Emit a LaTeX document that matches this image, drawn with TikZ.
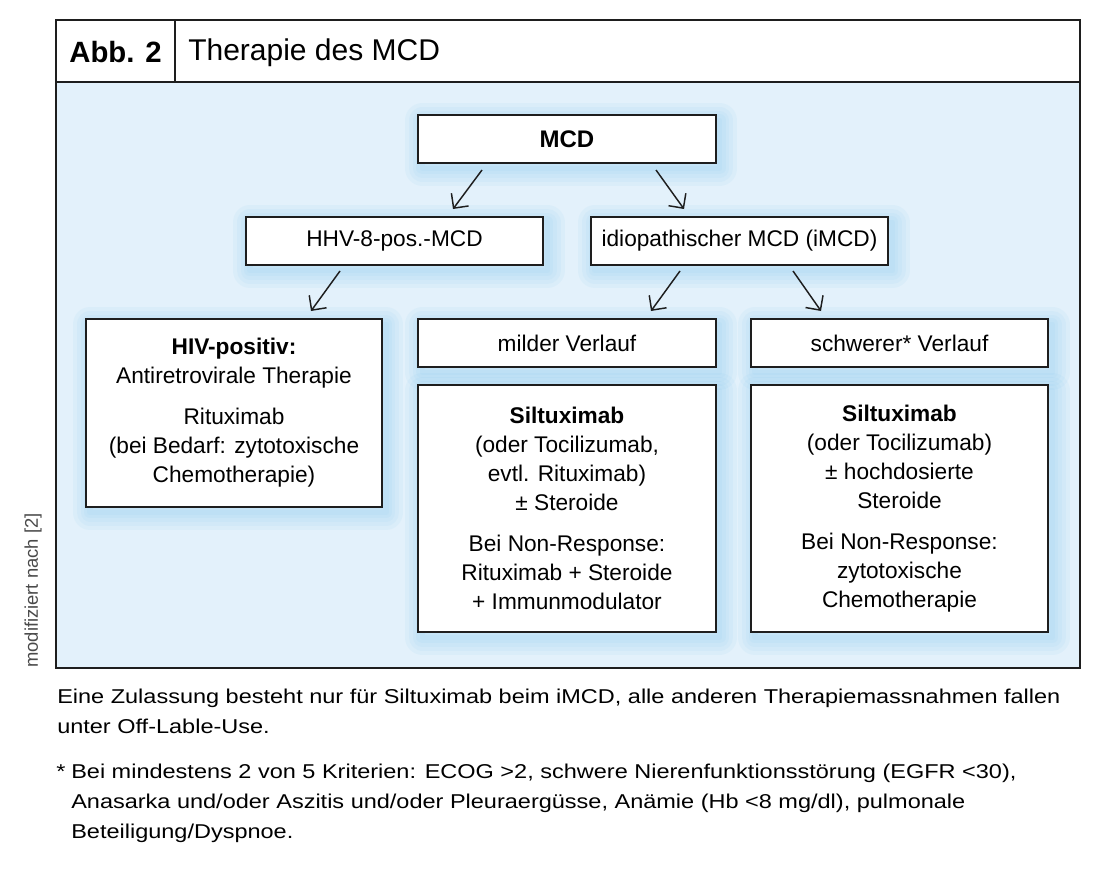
\documentclass[tikz,border=0pt]{standalone}
\usepackage{fontspec}
\setmainfont{Liberation Sans}
\newfontfamily\notefont[FakeStretch=1.175]{Liberation Sans}
\usetikzlibrary{arrows.meta}
\definecolor{bgblue}{HTML}{E3F1FB}
\definecolor{glowc}{HTML}{7CC6EE}
\definecolor{framec}{HTML}{1E1E1E}
\definecolor{sidegray}{HTML}{4A4A4A}
\tikzset{
  glowlayer/.style={preaction={draw=glowc, line width=#1, line join=round, draw opacity=0.08,
      transform canvas={xshift=3pt,yshift=-4pt}}},
  glow/.style={glowlayer=26pt, glowlayer=20pt, glowlayer=14pt, glowlayer=9pt, glowlayer=4pt},
  box/.style={glow, draw=framec, line width=1.5pt, fill=white, inner sep=0pt, align=center,
    font=\fontsize{17}{21.75}\selectfont},
  smallbox/.style={box, minimum width=223pt, minimum height=36pt},
  bigbox/.style={box, minimum width=223pt, minimum height=185.25pt},
  arr/.style={draw=framec, line width=1.1pt, -{Straight Barb[length=8pt,width=16pt,line width=1.1pt]}},
  notetext/.style={inner sep=0pt, font=\notefont\fontsize{15}{22.5}\selectfont}
}
\newcommand{\pgap}{\\[9pt]}
\begin{document}
\begin{tikzpicture}[x=0.75pt, y=-0.75pt]
\useasboundingbox (0,0) rectangle (1100,874);
\fill[white] (0,0) rectangle (1100,874);
% frame
\fill[bgblue] (56,82) rectangle (1080,668);
\draw[framec, line width=1.5pt] (56,20) rectangle (1080,668);
\draw[framec, line width=1.5pt] (56,82) -- (1080,82);
\draw[framec, line width=1.5pt] (175,20) -- (175,82);
\node[font=\fontsize{22}{26}\bfseries] (abb) at (115.5,52) {Abb. 2};
\node[anchor=west, inner sep=0pt, font=\fontsize{22.5}{26}\selectfont] (title) at (188,53) {Therapie des MCD};
% boxes
\node[smallbox, font=\fontsize{18}{21}\bfseries] (mcd) at (567,139) {MCD};
\node[smallbox] (hhv) at (394.5,241) {HHV-8-pos.-MCD};
\node[smallbox] (imcd) at (739.5,241) {idiopathischer MCD (iMCD)};
\node[box, minimum width=222pt, minimum height=141pt] (hiv) at (234,413)
  {\textbf{HIV-positiv:}\\Antiretrovirale Therapie\pgap Rituximab\\(bei Bedarf: zytotoxische\\Chemotherapie)};
\node[smallbox] (mild) at (567,343) {milder Verlauf};
\node[smallbox] (schwer) at (899.5,343) {schwerer* Verlauf};
\node[bigbox] (mildth) at (567,508.5)
  {\textbf{Siltuximab}\\(oder Tocilizumab,\\evtl. Rituximab)\\± Steroide\pgap Bei Non-Response:\\Rituximab + Steroide\\+ Immunmodulator};
\node[bigbox] (schwerth) at (899.5,508.5)
  {\textbf{Siltuximab}\\(oder Tocilizumab)\\± hochdosierte\\Steroide\pgap Bei Non-Response:\\zytotoxische\\Chemotherapie};
% arrows
\coordinate (a1s) at (482,170); \coordinate (a1e) at (453,209);
\coordinate (a2s) at (656,170); \coordinate (a2e) at (684,209);
\coordinate (a3s) at (340,271); \coordinate (a3e) at (311,311);
\coordinate (a4s) at (680,271); \coordinate (a4e) at (651,311);
\coordinate (a5s) at (793,271); \coordinate (a5e) at (821,311);
\draw[arr] (a1s) -- (a1e);
\draw[arr] (a2s) -- (a2e);
\draw[arr] (a3s) -- (a3e);
\draw[arr] (a4s) -- (a4e);
\draw[arr] (a5s) -- (a5e);
% side note
\node[rotate=90, anchor=west, inner sep=0pt, text=sidegray, font=\fontsize{13.8}{16}\selectfont] (src) at (33,668) {modifiziert nach [2]};
% footnotes
\node[notetext, anchor=north west, align=left] (note1) at (57,689)
  {Eine Zulassung besteht nur für Siltuximab beim iMCD, alle anderen Therapiemassnahmen fallen\\unter Off-Lable-Use.};
\node[notetext, anchor=north west] (star) at (56,764) {*};
\node[notetext, anchor=north west, align=left] (note2) at (71,764)
  {Bei mindestens 2 von 5 Kriterien: ECOG >2, schwere Nierenfunktionsstörung (EGFR <30),\\Anasarka und/oder Aszitis und/oder Pleuraergüsse, Anämie (Hb <8 mg/dl), pulmonale\\Beteiligung/Dyspnoe.};
\end{tikzpicture}
\end{document}
